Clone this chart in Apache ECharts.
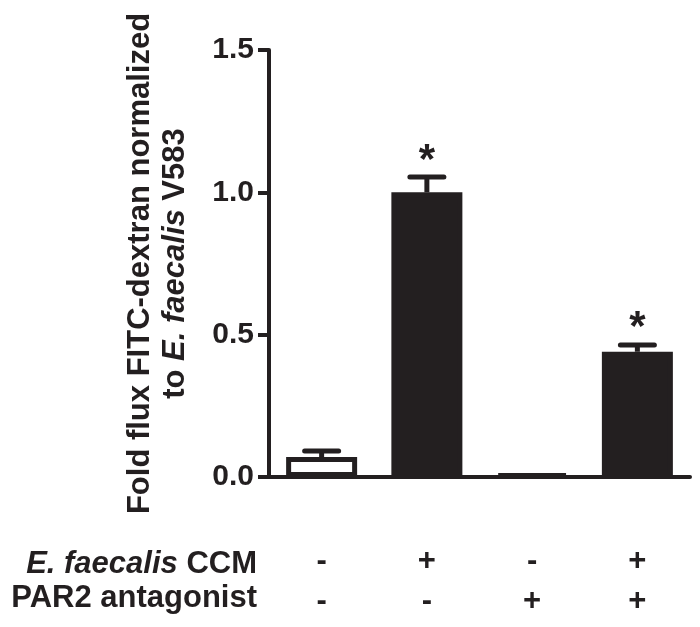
<!DOCTYPE html>
<html>
<head>
<meta charset="utf-8">
<script src="https://cdn.jsdelivr.net/npm/echarts@6/dist/echarts.min.js"></script>
<style>
  html, body { margin: 0; padding: 0; background: #fff; }
  #chart { width: 700px; height: 627px; }
</style>
</head>
<body>
<div id="chart"></div>
<script>
// data
const groups = ["g1", "g2", "g3", "g4"];
const ccmSigns = ["-", "+", "-", "+"];
const par2Signs = ["-", "-", "+", "+"];
const meanFlux = [0.07, 1.0, 0.011, 0.44];
const upperFlux = [0.091, 1.054, 0.011, 0.464];
const significant = [0, 1, 0, 1];
const yMin = 0, yMax = 1.5, yStep = 0.5;

const ink = "#231f20";
const font = "'Liberation Sans', Arial, Helvetica, sans-serif";

const chart = echarts.init(document.getElementById("chart"));

const errData = groups.map((g, i) => [i, meanFlux[i], upperFlux[i], significant[i]]);

const renderErr = (params, api) => {
    const i = api.value(0);
    const base = api.coord([i, api.value(1)]);
    const top = api.coord([i, api.value(2)]);
    const kids = [];
    if (top[1] < base[1] - 1) {
        kids.push({ type: "line", shape: { x1: base[0], y1: base[1], x2: top[0], y2: top[1] },
            style: { stroke: ink, lineWidth: 5 } });
        kids.push({ type: "line", shape: { x1: top[0] - 17, y1: top[1], x2: top[0] + 17, y2: top[1] },
            style: { stroke: ink, lineWidth: 5, lineCap: "round" } });
    }
    if (api.value(3)) {
        kids.push({ type: "text", style: { text: "*", x: top[0], y: top[1] - 16,
            align: "center", verticalAlign: "middle",
            font: "bold 42px " + font, fill: ink } });
    }
    return { type: "group", children: kids };
};

const rowRich = {
    a: { fontFamily: font, fontWeight: "bold", fontSize: 31, fill: ink },
    i: { fontFamily: font, fontWeight: "bold", fontStyle: "italic", fontSize: 31, fill: ink }
};

const option = {
    animation: false,
    grid: { left: 269, right: 10, top: 50, bottom: 150 },
    xAxis: {
        type: "category",
        data: groups,
        axisLine: { lineStyle: { color: ink, width: 4 } },
        axisTick: { alignWithLabel: true, length: 12, lineStyle: { color: ink, width: 4 } },
        axisLabel: {
            margin: 64,
            interval: 0,
            formatter: (v, i) => ccmSigns[i] + "\n" + par2Signs[i],
            color: ink, fontFamily: font, fontWeight: "bold", fontSize: 31, lineHeight: 40
        }
    },
    yAxis: {
        type: "value",
        min: yMin, max: yMax, interval: yStep,
        splitLine: { show: false },
        axisLine: { show: true, lineStyle: { color: ink, width: 4 } },
        axisTick: { show: true, length: 11, lineStyle: { color: ink, width: 4 } },
        axisLabel: {
            margin: 15,
            formatter: v => v.toFixed(1),
            color: ink, fontFamily: font, fontWeight: "bold", fontSize: 30
        },
        name: "{a|Fold flux FITC-dextran normalized}\n{a|to }{i|E. faecalis}{a| V583}",
        nameLocation: "middle",
        nameRotate: 90,
        nameGap: 76,
        nameTextStyle: {
            color: ink,
            rich: {
                a: { fontFamily: font, fontWeight: "bold", fontSize: 31, lineHeight: 35, color: ink },
                i: { fontFamily: font, fontWeight: "bold", fontStyle: "italic", fontSize: 31, lineHeight: 35, color: ink }
            }
        }
    },
    graphic: [
        { type: "text", x: 257, y: 564, style: {
            text: "{i|E. faecalis}{a| CCM}", align: "right", verticalAlign: "middle",
            rich: rowRich } },
        { type: "text", x: 257, y: 598, style: {
            text: "PAR2 antagonist", align: "right", verticalAlign: "middle",
            font: "bold 31px " + font, fill: ink } }
    ],
    series: [
        {
            type: "bar",
            data: meanFlux.map((v, i) => ({
                value: v,
                itemStyle: { color: i === 0 ? "#ffffff" : ink }
            })),
            barWidth: 71,
            itemStyle: { borderColor: ink, borderWidth: 5 }
        },
        {
            type: "custom",
            data: errData,
            renderItem: renderErr,
            z: 3
        }
    ]
};

chart.setOption(option);
</script>
</body>
</html>
